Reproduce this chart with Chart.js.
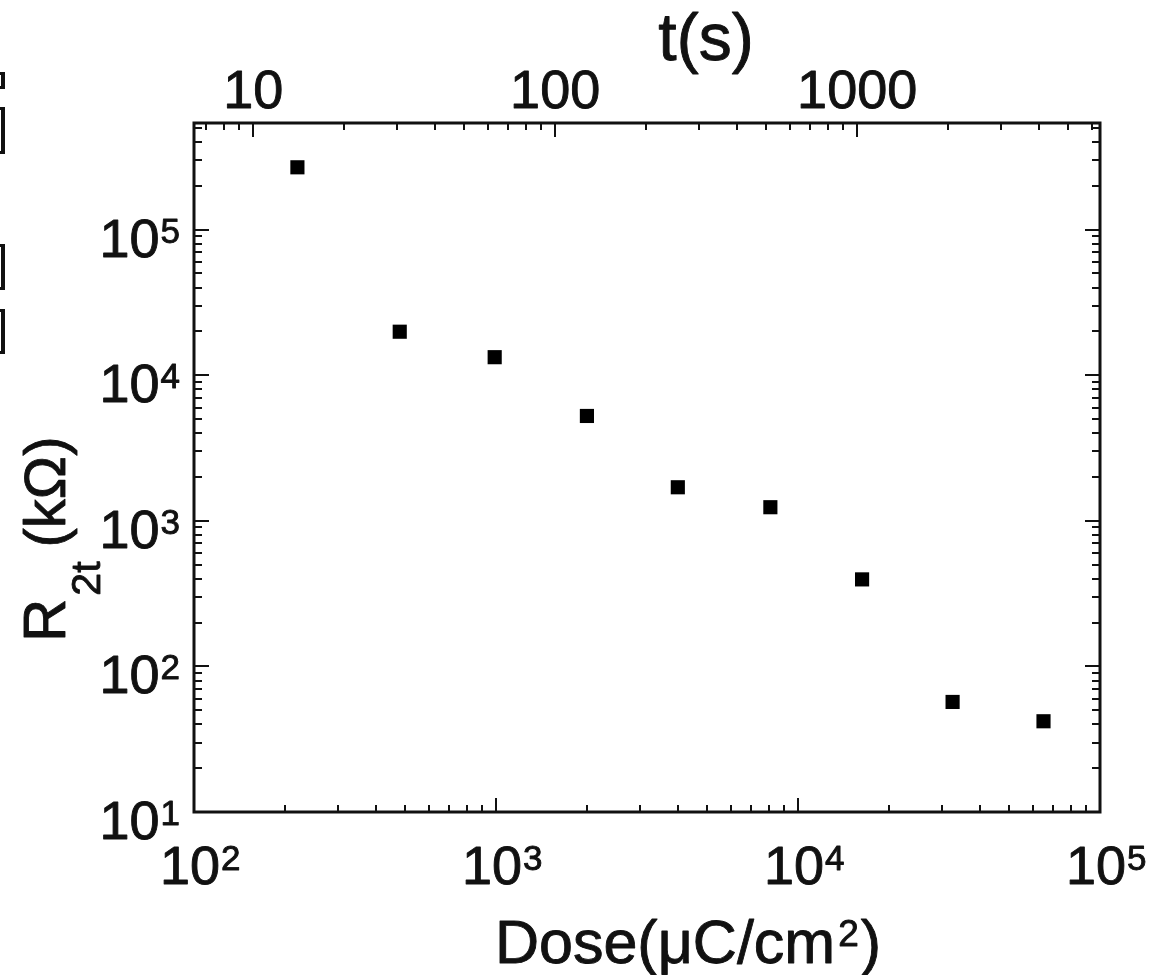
<!DOCTYPE html>
<html>
<head>
<meta charset="utf-8">
<title>R2t vs dose</title>
<script src="https://cdn.jsdelivr.net/npm/chart.js@4/dist/chart.umd.min.js"></script>
<style>
  html, body { margin: 0; padding: 0; background: #fff; }
  #wrap { position: relative; width: 1157px; height: 975px; }
  canvas { position: absolute; left: 0; top: 0; }
  .edge { position: absolute; left: -2px; width: 3px; border: 3px solid #111; border-left: none; border-right-width: 4px; }
</style>
</head>
<body>
<div id="wrap">
  <canvas id="doseChart" width="1157" height="975"></canvas>
  <div class="edge" style="top:72px;height:11px"></div>
  <div class="edge" style="top:107px;height:41px"></div>
  <div class="edge" style="top:244px;height:40px"></div>
  <div class="edge" style="top:309px;height:39px"></div>
</div>
<script>
// two-terminal resistance after exposure, against dose
const doseValues = [220, 480, 990, 2000, 4000, 8100, 16300, 32500, 65000];
const resistanceValues = [268000, 19900, 13300, 5250, 1700, 1240, 396, 57, 42];

// exposure time axis on top: t = dose / doseRate
const doseRate = 15.7;
const timeTicks = [10, 100, 1000];
const doseExponents = [2, 3, 4, 5];
const resistanceExponents = [1, 2, 3, 4, 5];

const FONT = '"Liberation Sans", Arial, Helvetica, sans-serif';

function minorTicks(min, max) {
  const out = [];
  for (let dec = Math.pow(10, Math.floor(Math.log10(min))); dec <= max; dec *= 10) {
    for (let m = 1; m < 10; m++) {
      const v = m * dec;
      if (v >= min * 0.9999 && v <= max * 1.0001) out.push({ v, major: m === 1 });
    }
  }
  return out;
}

// filled text with a thin outline, a touch heavier than plain regular
function text(ctx, s, x, y) {
  ctx.fillText(s, x, y);
  ctx.strokeText(s, x, y);
}

function drawPower(ctx, exp, x, baseline, align) {
  ctx.font = '54px ' + FONT;
  const wb = ctx.measureText('10').width;
  ctx.font = '35px ' + FONT;
  const ws = ctx.measureText(String(exp)).width;
  let left;
  if (align === 'right') left = x - wb - ws;
  else left = x - wb / 2;
  ctx.textAlign = 'left';
  ctx.textBaseline = 'alphabetic';
  ctx.font = '54px ' + FONT;
  text(ctx, '10', left, baseline);
  ctx.font = '35px ' + FONT;
  text(ctx, String(exp), left + wb + 1, baseline - 14);
}

const axesPlugin = {
  id: 'frameAxes',
  afterDraw(chart) {
    const { ctx, chartArea: a } = chart;
    const xs = chart.scales.x, ys = chart.scales.y, ts = chart.scales.t;
    ctx.save();
    ctx.strokeStyle = '#111';
    ctx.fillStyle = '#111';

    // frame
    ctx.lineWidth = 3;
    ctx.strokeRect(a.left, a.top, a.right - a.left, a.bottom - a.top);

    // inward ticks
    ctx.lineWidth = 2;
    ctx.beginPath();
    minorTicks(xs.min, xs.max).forEach(t => {
      const px = Math.round(xs.getPixelForValue(t.v));
      const len = t.major ? 14 : 7;
      ctx.moveTo(px, a.bottom); ctx.lineTo(px, a.bottom - len);
    });
    minorTicks(ts.min, ts.max).forEach(t => {
      const px = Math.round(ts.getPixelForValue(t.v));
      const len = t.major ? 14 : 7;
      ctx.moveTo(px, a.top); ctx.lineTo(px, a.top + len);
    });
    minorTicks(ys.min, ys.max).forEach(t => {
      const py = Math.round(ys.getPixelForValue(t.v));
      const len = t.major ? 15 : 8;
      ctx.moveTo(a.left, py); ctx.lineTo(a.left + len, py);
      ctx.moveTo(a.right, py); ctx.lineTo(a.right - len, py);
    });
    ctx.stroke();

    ctx.lineWidth = 0.9;
    ctx.lineJoin = 'round';

    // tick labels
    doseExponents.forEach(e => {
      drawPower(ctx, e, xs.getPixelForValue(Math.pow(10, e)) - 4, a.bottom + 72, 'center');
    });
    resistanceExponents.forEach(e => {
      drawPower(ctx, e, a.left - 15, ys.getPixelForValue(Math.pow(10, e)) + 27, 'right');
    });
    ctx.font = '54px ' + FONT;
    ctx.textAlign = 'center';
    timeTicks.forEach(v => {
      text(ctx, String(v), ts.getPixelForValue(v), a.top - 15);
    });

    // bottom title: Dose(μC/cm²)
    const parts = [
      { s: 'Dose(\u03bcC/cm', f: 61, dy: 0 },
      { s: '2', f: 37, dy: -17, gap: 3 },
      { s: ')', f: 61, dy: 0, gap: 2 }
    ];
    let total = 0;
    parts.forEach(p => { ctx.font = p.f + 'px ' + FONT; p.w = ctx.measureText(p.s).width; total += p.w + (p.gap || 0); });
    let x = (a.left + a.right) / 2 + 41 - total / 2;
    ctx.textAlign = 'left';
    parts.forEach(p => {
      x += p.gap || 0;
      ctx.font = p.f + 'px ' + FONT;
      text(ctx, p.s, x, a.bottom + 151 + p.dy);
      x += p.w;
    });

    // top title
    ctx.font = '66px ' + FONT;
    ctx.textAlign = 'center';
    text(ctx, 't(s)', (a.left + a.right) / 2 + 59, a.top - 63);

    // left title: R_2t (kΩ), rotated
    ctx.translate(a.left - 129, a.bottom - 170);
    ctx.rotate(-Math.PI / 2);
    ctx.textAlign = 'left';
    ctx.font = '60px ' + FONT;
    text(ctx, 'R', 0, 0);
    let lx = ctx.measureText('R').width + 3;
    ctx.font = '41px ' + FONT;
    text(ctx, '2t', lx, 35);
    lx += ctx.measureText('2t').width + 14;
    ctx.font = '58px ' + FONT;
    text(ctx, '(k\u03a9)', lx, 0);
    ctx.restore();
  }
};

new Chart(document.getElementById('doseChart'), {
  type: 'scatter',
  data: {
    datasets: [{
      data: doseValues.map((d, i) => ({ x: d, y: resistanceValues[i] })),
      pointStyle: 'rect',
      pointRadius: 10,
      backgroundColor: '#000',
      borderWidth: 0
    }]
  },
  options: {
    responsive: false,
    devicePixelRatio: 1,
    animation: false,
    layout: { padding: { left: 194, right: 57, top: 123, bottom: 163 } },
    plugins: { legend: { display: false }, tooltip: { enabled: false } },
    scales: {
      x: { type: 'logarithmic', min: 100, max: 100000, display: false },
      t: { type: 'logarithmic', axis: 'x', position: 'top', min: 100 / doseRate, max: 100000 / doseRate, display: false },
      y: { type: 'logarithmic', min: 10, max: 540000, display: false }
    }
  },
  plugins: [axesPlugin]
});
</script>
</body>
</html>
